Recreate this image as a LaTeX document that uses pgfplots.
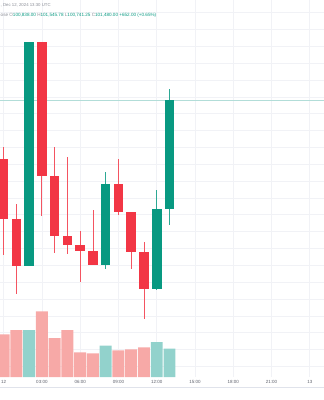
\documentclass[border=0pt]{standalone}
\usepackage{pgfplots}
\pgfplotsset{compat=1.18}
\usepackage{pgfplotstable}
\usepackage{fontspec}
\setmainfont{Liberation Sans}
\definecolor{cRed}{HTML}{F23645}
\definecolor{cGreen}{HTML}{089981}
\definecolor{vRed}{HTML}{F7A9A7}
\definecolor{vGreen}{HTML}{92D2CC}
\definecolor{gridc}{HTML}{F1F2F6}
\definecolor{txt}{HTML}{5D606B}
\definecolor{hdr}{HTML}{8A8D96}
\definecolor{pline}{HTML}{B2DDD8}

% hourly candles, Dec 12 2024 (x = hour)
\pgfplotstableread{
x  o       h         l         c
0  101130  101204    100562    100775
1  100775  100864    100334    100498
3  101828  101828    100795    101029
4  101029  101201    100575    100677
5  100677  101143    100572    100621
6  100621  100706    100403    100585
7  100585  100829    100502    100502
9  100983  101131    100799    100815
10 100815  100815    100479    100581
11 100581  100641    100185    100360
}\downtbl
\pgfplotstableread{
x  o       h         l         c
2  100498  101828    100498    101828
8  100502  101053    100477    100983
12 100360  100948    100354    100838
13 100838  101545.78 100741.25 101480
}\uptbl
\pgfplotstableread{
x  v
0  42.7
1  47
3  65.7
4  39
5  47
6  24.7
7  23.7
9  26.7
10 27.7
11 29.7
}\voldown
\pgfplotstableread{
x  v
2  47
8  31.4
12 35
13 28.4
}\volup

\begin{document}
\begin{tikzpicture}[x=1pt,y=1pt]
\useasboundingbox (0,0) rectangle (324,400);
\begin{axis}[
  at={(0pt,23pt)}, anchor=south west, scale only axis,
  width=324pt, height=377pt,
  xmin=-0.2821, xmax=25.11, ymin=99837.6, ymax=102075,
  axis line style={draw=none},
  major tick length=0pt,
  xtick={0,3,...,24},
  xticklabels={12,03:00,06:00,09:00,12:00,15:00,18:00,21:00,13},
  ytick={99900,100000,...,102000},
  yticklabels={},
  grid=major,
  grid style={draw=gridc, line width=0.7pt},
  /pgf/number format/assume math mode=true,
  xticklabel style={font=\fontsize{4.5}{5}\selectfont, text=txt, anchor=center, yshift=-4.8pt},
  clip=true,
  candle/.style={draw=none, no markers,
    error bars/y dir=both, error bars/y explicit, error bars/error mark=none},
]
% last price line
\addplot[pline, line width=0.7pt] coordinates {(-0.2821,101480) (25.11,101480)};
% wicks
\addplot[candle, error bars/error bar style={line width=0.8pt, draw=cRed!85, solid}]
  table[x=x, y expr={(\thisrow{h}+\thisrow{l})/2}, y error expr={(\thisrow{h}-\thisrow{l})/2}] {\downtbl};
\addplot[candle, error bars/error bar style={line width=0.8pt, draw=cGreen!85, solid}]
  table[x=x, y expr={(\thisrow{h}+\thisrow{l})/2}, y error expr={(\thisrow{h}-\thisrow{l})/2}] {\uptbl};
% bodies
\addplot[candle, error bars/error bar style={line width=9.6pt, draw=cRed, solid}]
  table[x=x, y expr={(\thisrow{o}+\thisrow{c})/2}, y error expr={abs(\thisrow{o}-\thisrow{c})/2}] {\downtbl};
\addplot[candle, error bars/error bar style={line width=9.6pt, draw=cGreen, solid}]
  table[x=x, y expr={(\thisrow{o}+\thisrow{c})/2}, y error expr={abs(\thisrow{o}-\thisrow{c})/2}] {\uptbl};
\end{axis}
\begin{axis}[
  at={(0pt,23pt)}, anchor=south west, scale only axis,
  width=324pt, height=377pt,
  xmin=-0.2821, xmax=25.11, ymin=0, ymax=377,
  hide axis, ybar,
]
\addplot[fill=vRed, draw=none, bar width=11.9pt, bar shift=0pt] table[x=x, y=v] {\voldown};
\addplot[fill=vGreen, draw=none, bar width=11.9pt, bar shift=0pt] table[x=x, y=v] {\volup};
\end{axis}
\draw[draw={rgb,255:red,224;green,227;blue,235}, line width=0.8pt] (0,12.7) -- (324,12.7);
\node[anchor=west, inner sep=0pt, font=\fontsize{4.3}{5}\selectfont, text=hdr] at (0.5,394.3) {, Dec 12, 2024 13:30 UTC};
\node[anchor=west, inner sep=0pt, font=\fontsize{4.6}{5}\selectfont, text=hdr] at (0.5,385)
  {ose \textcolor{hdr}{O}\textcolor{cGreen}{100,838.00} \textcolor{hdr}{H}\textcolor{cGreen}{101,545.78} \textcolor{hdr}{L}\textcolor{cGreen}{100,741.25} \textcolor{hdr}{C}\textcolor{cGreen}{101,480.00} \textcolor{cGreen}{+652.00 (+0.65\%)}};
\end{tikzpicture}
\end{document}
